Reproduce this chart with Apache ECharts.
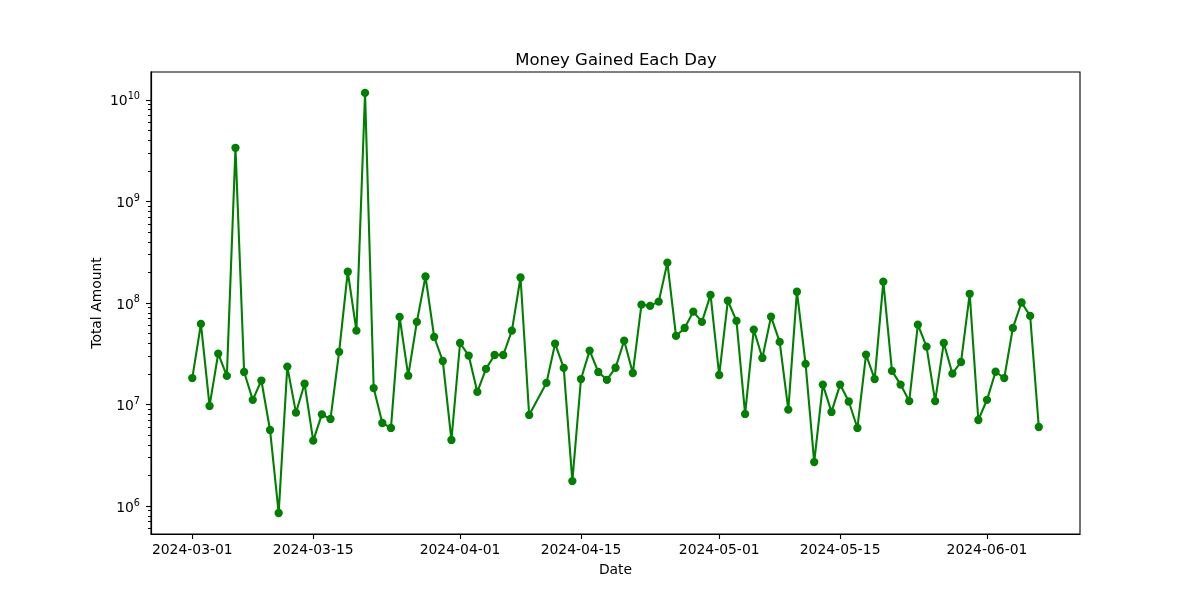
<!DOCTYPE html>
<html><head><meta charset="utf-8">
<script src="https://cdn.jsdelivr.net/npm/echarts@6/dist/echarts.min.js"></script>
<style>html,body{margin:0;padding:0;background:#fff}#c{width:1200px;height:600px}</style>
</head><body><div id="c"></div>
<script>
const dates = [
 '2024-03-01','2024-03-02','2024-03-03','2024-03-04','2024-03-05','2024-03-06','2024-03-07','2024-03-08','2024-03-09','2024-03-10',
 '2024-03-11','2024-03-12','2024-03-13','2024-03-14','2024-03-15','2024-03-16','2024-03-17','2024-03-18','2024-03-19','2024-03-20',
 '2024-03-21','2024-03-22','2024-03-23','2024-03-24','2024-03-25','2024-03-26','2024-03-27','2024-03-28','2024-03-29','2024-03-30',
 '2024-03-31','2024-04-01','2024-04-02','2024-04-03','2024-04-04','2024-04-05','2024-04-06','2024-04-07','2024-04-08','2024-04-09',
 '2024-04-11','2024-04-12','2024-04-13','2024-04-14','2024-04-15','2024-04-16','2024-04-17','2024-04-18','2024-04-19','2024-04-20',
 '2024-04-21','2024-04-22','2024-04-23','2024-04-24','2024-04-25','2024-04-26','2024-04-27','2024-04-28','2024-04-29','2024-04-30',
 '2024-05-01','2024-05-02','2024-05-03','2024-05-04','2024-05-05','2024-05-06','2024-05-07','2024-05-08','2024-05-09','2024-05-10',
 '2024-05-11','2024-05-12','2024-05-13','2024-05-14','2024-05-15','2024-05-16','2024-05-17','2024-05-18','2024-05-19','2024-05-20',
 '2024-05-21','2024-05-22','2024-05-23','2024-05-24','2024-05-25','2024-05-26','2024-05-27','2024-05-28','2024-05-29','2024-05-30',
 '2024-05-31','2024-06-01','2024-06-02','2024-06-03','2024-06-04','2024-06-05','2024-06-06','2024-06-07'
];
const amounts = [
 1.82e7, 6.21e7, 9.67e6, 3.17e7, 1.91e7, 3.37e9, 2.09e7, 1.11e7, 1.72e7, 5.61e6,
 8.53e5, 2.36e7, 8.30e6, 1.60e7, 4.40e6, 7.99e6, 7.20e6, 3.30e7, 2.03e8, 5.33e7,
 1.17e10, 1.45e7, 6.57e6, 5.87e6, 7.28e7, 1.92e7, 6.50e7, 1.82e8, 4.62e7, 2.68e7,
 4.47e6, 4.03e7, 3.03e7, 1.33e7, 2.24e7, 3.07e7, 3.07e7, 5.33e7, 1.78e8, 7.88e6,
 1.63e7, 3.97e7, 2.29e7, 1.76e6, 1.78e7, 3.39e7, 2.09e7, 1.75e7, 2.30e7, 4.25e7,
 2.04e7, 9.62e7, 9.34e7, 1.03e8, 2.49e8, 4.73e7, 5.67e7, 8.21e7, 6.50e7, 1.20e8,
 1.95e7, 1.05e8, 6.65e7, 8.06e6, 5.46e7, 2.87e7, 7.33e7, 4.13e7, 8.89e6, 1.29e8,
 2.51e7, 2.71e6, 1.57e7, 8.44e6, 1.57e7, 1.07e7, 5.87e6, 3.10e7, 1.78e7, 1.62e8,
 2.14e7, 1.57e7, 1.08e7, 6.11e7, 3.71e7, 1.08e7, 4.03e7, 2.01e7, 2.62e7, 1.23e8,
 7.03e6, 1.11e7, 2.10e7, 1.82e7, 5.67e7, 1.01e8, 7.45e7, 6.00e6
];
const xTickLabels = ['2024-03-01','2024-03-15','2024-04-01','2024-04-15','2024-05-01','2024-05-15','2024-06-01'];
const yTickValues = [1e6, 1e7, 1e8, 1e9, 1e10];

const DAY = 86400000;
const toTs = s => Date.parse(s + 'T00:00:00Z');
const pad2 = n => (n < 10 ? '0' : '') + n;
const fmtDate = v => { const d = new Date(v); return d.getUTCFullYear() + '-' + pad2(d.getUTCMonth() + 1) + '-' + pad2(d.getUTCDate()); };

const xMin = toTs(dates[0]) - 4.78 * DAY;
const xMax = toTs(dates[dates.length - 1]) + 4.77 * DAY;
const yMin = 5.3e5, yMax = 1.88e10;

const minorTicks = [];
for (let e = 5; e <= 10; e++) for (let m = 2; m <= 9; m++) {
  const v = m * Math.pow(10, e);
  if (v > yMin && v < yMax) minorTicks.push(v);
}

const FONT = 'DejaVu Sans';
const chart = echarts.init(document.getElementById('c'), null, {renderer: 'canvas'});
const option = {
  animation: false,
  backgroundColor: '#fff',
  textStyle: {fontFamily: FONT, color: '#000'},
  title: {
    text: 'Money Gained Each Day',
    left: 611, top: 47, textAlign: 'center',
    textStyle: {fontFamily: FONT, fontSize: 16.5, fontWeight: 'normal', color: '#000'}
  },
  grid: {left: 151, right: 120, top: 72, bottom: 66, show: true, borderColor: '#000', borderWidth: 1.1, backgroundColor: 'transparent', containLabel: false},
  xAxis: {
    type: 'value', min: xMin, max: xMax, scale: true,
    name: 'Date', nameLocation: 'middle', nameGap: 29,
    nameTextStyle: {fontFamily: FONT, fontSize: 13.9, color: '#000'},
    axisLine: {show: true, lineStyle: {color: '#000', width: 1.1}},
    axisTick: {show: true, length: 5, lineStyle: {color: '#000', width: 1.1}, customValues: xTickLabels.map(toTs)},
    axisLabel: {show: true, margin: 9, fontFamily: FONT, fontSize: 13.9, color: '#000', hideOverlap: false,
      customValues: xTickLabels.map(toTs), formatter: v => fmtDate(v)},
    splitLine: {show: false}
  },
  yAxis: [{
    type: 'log', logBase: 10, min: yMin, max: yMax, position: 'left', offset: 0,
    axisLine: {show: true, lineStyle: {color: '#000', width: 1.1}},
    axisTick: {show: true, length: 3, lineStyle: {color: '#000', width: 1}, customValues: minorTicks},
    axisLabel: {show: true, color: 'rgba(0,0,0,0)', customValues: minorTicks, formatter: () => ''},
    splitLine: {show: false}
  }, {
    type: 'log', logBase: 10, min: yMin, max: yMax, position: 'left', offset: 0,
    name: 'Total Amount', nameLocation: 'middle', nameGap: 47, nameRotate: 90, nameMoveOverlap: false,
    nameTextStyle: {fontFamily: FONT, fontSize: 13.9, color: '#000'},
    axisLine: {show: true, lineStyle: {color: '#000', width: 1.1}},
    axisTick: {show: true, length: 5, lineStyle: {color: '#000', width: 1.1}, customValues: yTickValues},
    axisLabel: {show: true, margin: 11, color: '#000', hideOverlap: false, customValues: yTickValues,
      formatter: v => '{b|10}{s|' + Math.round(Math.log10(v)) + '}',
      rich: {
        b: {fontFamily: FONT, fontSize: 13.9, color: '#000', height: 14, padding: [4, 0, 0, 0], verticalAlign: 'bottom'},
        s: {fontFamily: FONT, fontSize: 9.7, color: '#000', height: 10, padding: [1, 0, 0, 0], verticalAlign: 'top'}
      }},
    splitLine: {show: false}, minorTick: {show: false}
  }],
  series: [{
    type: 'line', yAxisIndex: 1,
    data: dates.map((d, i) => [toTs(d), amounts[i]]),
    symbol: 'circle', symbolSize: 8.3, showSymbol: true, showAllSymbol: true,
    lineStyle: {color: '#008000', width: 2.1},
    itemStyle: {color: '#008000', borderWidth: 0},
    emphasis: {disabled: true}
  }]
};
chart.setOption(option);
</script>
</body></html>
